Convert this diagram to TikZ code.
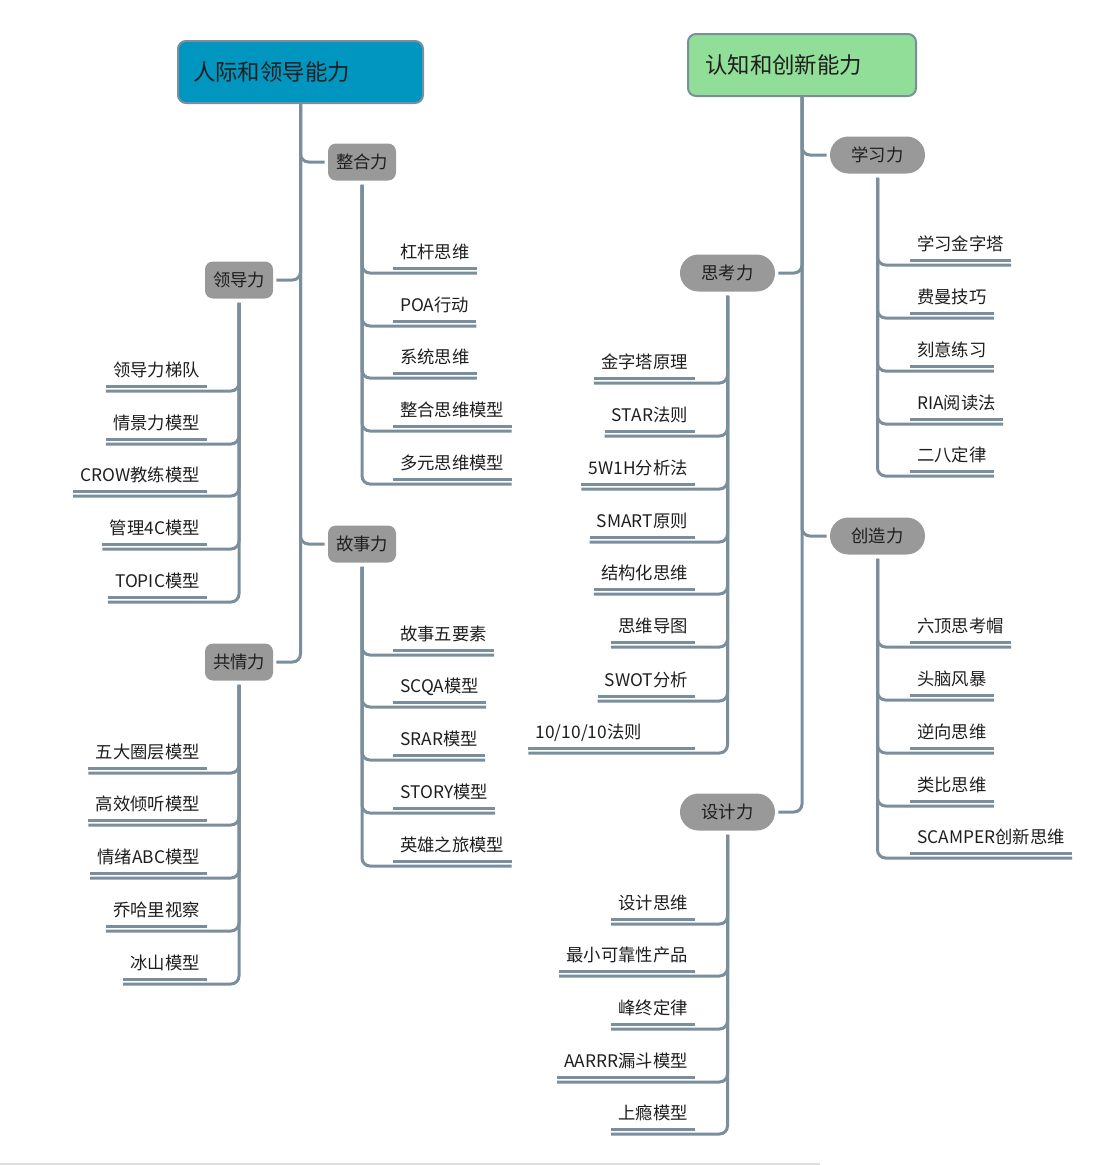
\documentclass[tikz,border=0pt]{standalone}
\usepackage{fontspec}
\setmainfont{Noto Sans CJK SC}
\usetikzlibrary{calc}
\definecolor{linec}{RGB}{122,143,155}
\definecolor{midc}{RGB}{153,153,153}
\definecolor{rootL}{RGB}{0,150,192}
\definecolor{rootR}{RGB}{144,222,152}
\definecolor{txt}{RGB}{30,30,30}
\definecolor{baseln}{RGB}{222,222,222}
\newcommand\mmLeafR[6][]{%
  \node[leaf,anchor=south west,#1] (#2) at (#3,#4) {#5};
  \draw[uline] (#2.south west) -- (#2.south east);
  \draw[conn] (#6) |- ($(#2.south east)+(0,5)$);
}
\newcommand\mmLeafL[6][]{%
  \node[leaf,anchor=south east,#1] (#2) at (#3,#4) {#5};
  \draw[uline] (#2.south west) -- (#2.south east);
  \draw[conn] (#6) |- ($(#2.south west)+(0,5)$);
}
\begin{document}
\begin{tikzpicture}[x=0.75pt,y=-0.75pt,
  conn/.style={draw=linec,line width=2.25pt,rounded corners=6pt},
  uline/.style={draw=linec,line width=2.25pt},
  leaf/.style={inner xsep=5.25pt,inner ysep=6.6pt,text depth=0pt,font=\fontsize{13}{15}\selectfont,text=txt},
  midbox/.style={fill=midc,rounded corners=6pt,minimum width=51pt,minimum height=27.75pt,inner sep=0pt,font=\fontsize{13}{15}\selectfont,text=txt},
  midpill/.style={fill=midc,rounded corners=13.8pt,minimum width=71.25pt,minimum height=27.75pt,inner sep=0pt,font=\fontsize{13}{15}\selectfont,text=txt},
  rootbox/.style={draw=linec,line width=1.5pt,rounded corners=6pt,minimum height=46.5pt,inner xsep=0pt,align=left,font=\fontsize{16.8}{19}\selectfont,text=txt}
]
\useasboundingbox (0,0) rectangle (1114,1165);
\draw[baseln,line width=1.5pt] (0,1163.5) -- (820,1163.5);

% roots
\node[rootbox,fill=rootL,minimum width=183.75pt,text width=161pt] (rl) at (300.5,72) {人际和领导能力};
\node[rootbox,fill=rootR,minimum width=171pt,text width=145pt] (rr) at (802,65) {认知和创新能力};

% mid nodes left
\node[midbox] (zh) at (362,162) {整合力};
\node[midbox] (ld) at (239,280) {领导力};
\node[midbox] (gs) at (362,544) {故事力};
\node[midbox] (gq) at (239,662) {共情力};
% mid nodes right
\node[midpill] (xx) at (877.5,155) {学习力};
\node[midpill] (sk) at (727.5,273) {思考力};
\node[midpill] (cz) at (877.5,536) {创造力};
\node[midpill] (sj) at (727.5,812) {设计力};

% stem connectors
\draw[conn] (rl.south) |- ($(zh.west)+(-3,0)$);
\draw[conn] (rl.south) |- ($(ld.east)+(3,0)$);
\draw[conn] (rl.south) |- ($(gs.west)+(-3,0)$);
\draw[conn] (rl.south) |- ($(gq.east)+(3,0)$);
\draw[conn] (rr.south) |- ($(xx.west)+(-3,0)$);
\draw[conn] (rr.south) |- ($(sk.east)+(3,0)$);
\draw[conn] (rr.south) |- ($(cz.west)+(-3,0)$);
\draw[conn] (rr.south) |- ($(sj.east)+(3,0)$);

% start points below mid nodes
\coordinate (zhs) at ($(zh.south)+(0,4)$);
\coordinate (lds) at ($(ld.south)+(0,4)$);
\coordinate (gss) at ($(gs.south)+(0,4)$);
\coordinate (gqs) at ($(gq.south)+(0,4)$);
\coordinate (xxs) at ($(xx.south)+(0,4)$);
\coordinate (sks) at ($(sk.south)+(0,4)$);
\coordinate (czs) at ($(cz.south)+(0,4)$);
\coordinate (sjs) at ($(sj.south)+(0,4)$);

% 整合力
\mmLeafR{zh1}{393}{268}{杠杆思维}{zhs}
\mmLeafR{zh2}{393}{321}{POA行动}{zhs}
\mmLeafR{zh3}{393}{373}{系统思维}{zhs}
\mmLeafR{zh4}{393}{426}{整合思维模型}{zhs}
\mmLeafR{zh5}{393}{479}{多元思维模型}{zhs}
% 领导力
\mmLeafL{ld1}{207}{386}{领导力梯队}{lds}
\mmLeafL{ld2}{207}{439}{情景力模型}{lds}
\mmLeafL{ld3}{207}{491}{CROW教练模型}{lds}
\mmLeafL{ld4}{207}{544}{管理4C模型}{lds}
\mmLeafL{ld5}{207}{597}{TOPIC模型}{lds}
% 故事力
\mmLeafR{gs1}{393}{650}{故事五要素}{gss}
\mmLeafR{gs2}{393}{702}{SCQA模型}{gss}
\mmLeafR{gs3}{393}{755}{SRAR模型}{gss}
\mmLeafR{gs4}{393}{808}{STORY模型}{gss}
\mmLeafR{gs5}{393}{861}{英雄之旅模型}{gss}
% 共情力
\mmLeafL{gq1}{207}{768}{五大圈层模型}{gqs}
\mmLeafL{gq2}{207}{820}{高效倾听模型}{gqs}
\mmLeafL{gq3}{207}{873}{情绪ABC模型}{gqs}
\mmLeafL{gq4}{207}{926}{乔哈里视察}{gqs}
\mmLeafL{gq5}{207}{979}{冰山模型}{gqs}
% 学习力
\mmLeafR{xx1}{910}{260}{学习金字塔}{xxs}
\mmLeafR{xx2}{910}{313}{费曼技巧}{xxs}
\mmLeafR{xx3}{910}{366}{刻意练习}{xxs}
\mmLeafR{xx4}{910}{419}{RIA阅读法}{xxs}
\mmLeafR{xx5}{910}{471}{二八定律}{xxs}
% 思考力
\mmLeafL{sk1}{695}{378}{金字塔原理}{sks}
\mmLeafL{sk2}{695}{431}{STAR法则}{sks}
\mmLeafL{sk3}{695}{484}{5W1H分析法}{sks}
\mmLeafL{sk4}{695}{537}{SMART原则}{sks}
\mmLeafL{sk5}{695}{589}{结构化思维}{sks}
\mmLeafL{sk6}{695}{642}{思维导图}{sks}
\mmLeafL{sk7}{695}{696}{SWOT分析}{sks}
\mmLeafL[text width=114pt,align=left]{sk8}{695}{748}{10/10/10法则}{sks}
% 创造力
\mmLeafR{cz1}{910}{642}{六顶思考帽}{czs}
\mmLeafR{cz2}{910}{695}{头脑风暴}{czs}
\mmLeafR{cz3}{910}{748}{逆向思维}{czs}
\mmLeafR{cz4}{910}{801}{类比思维}{czs}
\mmLeafR{cz5}{910}{853}{SCAMPER创新思维}{czs}
% 设计力
\mmLeafL{sj1}{695}{919}{设计思维}{sjs}
\mmLeafL{sj2}{695}{971}{最小可靠性产品}{sjs}
\mmLeafL{sj3}{695}{1024}{峰终定律}{sjs}
\mmLeafL{sj4}{695}{1077}{AARRR漏斗模型}{sjs}
\mmLeafL{sj5}{695}{1129}{上瘾模型}{sjs}
\end{tikzpicture}
\end{document}
